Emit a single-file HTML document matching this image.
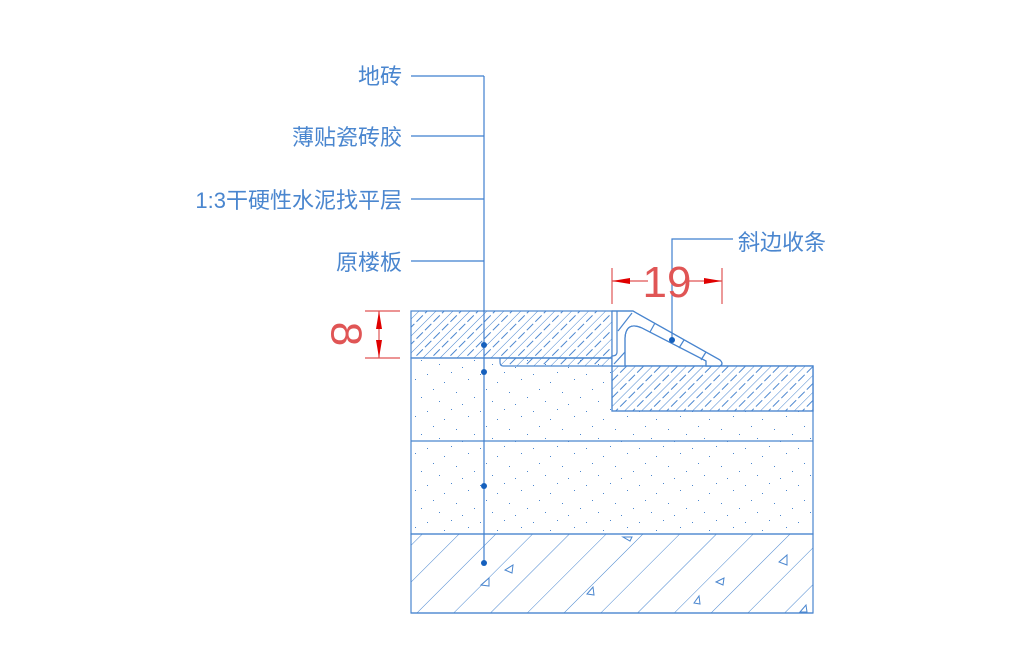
<!DOCTYPE html>
<html><head><meta charset="utf-8"><style>
html,body{margin:0;padding:0;background:#fff;}
svg{display:block;}
text{font-family:"Liberation Sans","Noto Sans CJK SC",sans-serif;}
</style></head><body>
<svg width="1024" height="670" viewBox="0 0 1024 670" xmlns="http://www.w3.org/2000/svg">
<defs>
<pattern id="tile" width="12" height="12" patternUnits="userSpaceOnUse" patternTransform="rotate(45)">
<line x1="0" y1="0" x2="0" y2="12" stroke="#4a86cf" stroke-width="1"/>
<line x1="6" y1="0" x2="6" y2="5" stroke="#4a86cf" stroke-width="1"/>
<line x1="6" y1="8" x2="6" y2="12" stroke="#4a86cf" stroke-width="1"/>
</pattern>
<pattern id="conc" width="26" height="26" patternUnits="userSpaceOnUse" patternTransform="rotate(45)">
<line x1="0" y1="0" x2="0" y2="26" stroke="#4a86cf" stroke-width="1"/>
</pattern>
<pattern id="dots" width="53" height="37" patternUnits="userSpaceOnUse">
<g fill="#4a86cf">
<rect x="3" y="4" width="1" height="1"/><rect x="27" y="2" width="1" height="1"/><rect x="44" y="9" width="1" height="1"/>
<rect x="9" y="19" width="1" height="1"/><rect x="32" y="22" width="1" height="1"/><rect x="50" y="27" width="1" height="1"/>
<rect x="15" y="31" width="1" height="1"/><rect x="38" y="34" width="1" height="1"/><rect x="20" y="12" width="1" height="1"/>
</g>
</pattern>
</defs>
<g stroke="#4a86cf" stroke-width="1.2" fill="none">
<!-- screed layers -->
<path d="M411 358 L612 358 L612 366 L813 366 L813 534 L411 534 Z" fill="url(#dots)"/>
<line x1="411" y1="441" x2="813" y2="441"/>
<rect x="411" y="534" width="402" height="79" fill="url(#conc)"/>
<!-- left tile -->
<rect x="411" y="311" width="201" height="47" fill="url(#tile)"/>
<!-- adhesive strip -->
<path d="M500 358 L612 358 L612 366 L503 366 Q500 366 500 362 Z" fill="url(#tile)"/>
<!-- right tile -->
<rect x="612" y="366" width="201" height="45" fill="#fff"/>
<rect x="612" y="366" width="201" height="45" fill="url(#tile)"/>
<!-- profile -->
<path d="M612 311 L633 311 L720 360 Q724 364 720 366 L706 366 L706 361 L642 328 Q626 321 625 338 L625 366 L612 366 Z" fill="#fff"/>
<path d="M612 311 L633 311 L720 360 Q724 364 720 366 L706 366 L706 361 L642 328 Q626 321 625 338 L625 366 M617 311 L617 352 Q617 356 612 356"/>
<line x1="618" y1="331" x2="632" y2="313"/>
<line x1="655" y1="323" x2="650" y2="332"/>
<line x1="684" y1="340" x2="679" y2="348"/>
<line x1="706" y1="352" x2="701" y2="360"/>
<line x1="614" y1="364" x2="625" y2="352"/>
<line x1="411" y1="613" x2="813" y2="613"/>
</g>
<!-- triangles -->
<g stroke="#4a86cf" stroke-width="1" fill="none">
<path d="M481 585 L489 578 L489 586 Z"/><path d="M505 570 L513 565 L512 573 Z"/>
<path d="M587 594 L593 587 L594 595 Z"/><path d="M694 603 L699 596 L700 604 Z"/>
<path d="M716 582 L724 578 L723 585 Z"/><path d="M779 562 L787 555 L787 565 Z"/>
<path d="M623 537 L632 537 L630 541 Z"/><path d="M800 612 L806 605 L807 612 Z"/>
</g>
<!-- leaders -->
<g stroke="#3f7fcf" stroke-width="1.2" fill="none">
<line x1="484" y1="76" x2="484" y2="563"/>
<line x1="411" y1="76" x2="484" y2="76"/>
<line x1="411" y1="136" x2="484" y2="136"/>
<line x1="411" y1="199" x2="484" y2="199"/>
<line x1="411" y1="261" x2="484" y2="261"/>
<polyline points="733,239 672,239 672,340"/>
</g>
<g fill="#1560bd">
<circle cx="484" cy="345" r="3"/><circle cx="484" cy="372" r="3"/>
<circle cx="484" cy="486" r="3"/><circle cx="484" cy="563" r="3"/>
<circle cx="672" cy="340" r="3"/>
</g>
<g fill="#4a86cf" font-size="22" text-anchor="end">
<text x="402" y="84">地砖</text>
<text x="402" y="145">薄贴瓷砖胶</text>
<text x="402" y="208">1:3干硬性水泥找平层</text>
<text x="402" y="270">原楼板</text>
<text x="738" y="250" text-anchor="start">斜边收条</text>
</g>
<!-- dimensions -->
<g stroke="#e05555" stroke-width="1.2">
<line x1="612" y1="268" x2="612" y2="304"/>
<line x1="722" y1="268" x2="722" y2="304"/>
<line x1="612" y1="281" x2="648" y2="281"/>
<line x1="686" y1="281" x2="722" y2="281"/>
<line x1="365" y1="311" x2="400" y2="311"/>
<line x1="365" y1="358" x2="400" y2="358"/>
<line x1="379" y1="311" x2="379" y2="358"/>
</g>
<g fill="#e00000">
<path d="M612 281 L630 278 L630 284 Z"/><path d="M722 281 L704 278 L704 284 Z"/>
<path d="M379 311 L376 329 L382 329 Z"/><path d="M379 358 L376 340 L382 340 Z"/>
</g>
<text x="667" y="297" fill="#e05555" font-size="44" text-anchor="middle">19</text>
<text transform="translate(346,334) rotate(90)" fill="#e05555" font-size="44" text-anchor="middle" dominant-baseline="central">8</text>
</svg>
</body></html>
